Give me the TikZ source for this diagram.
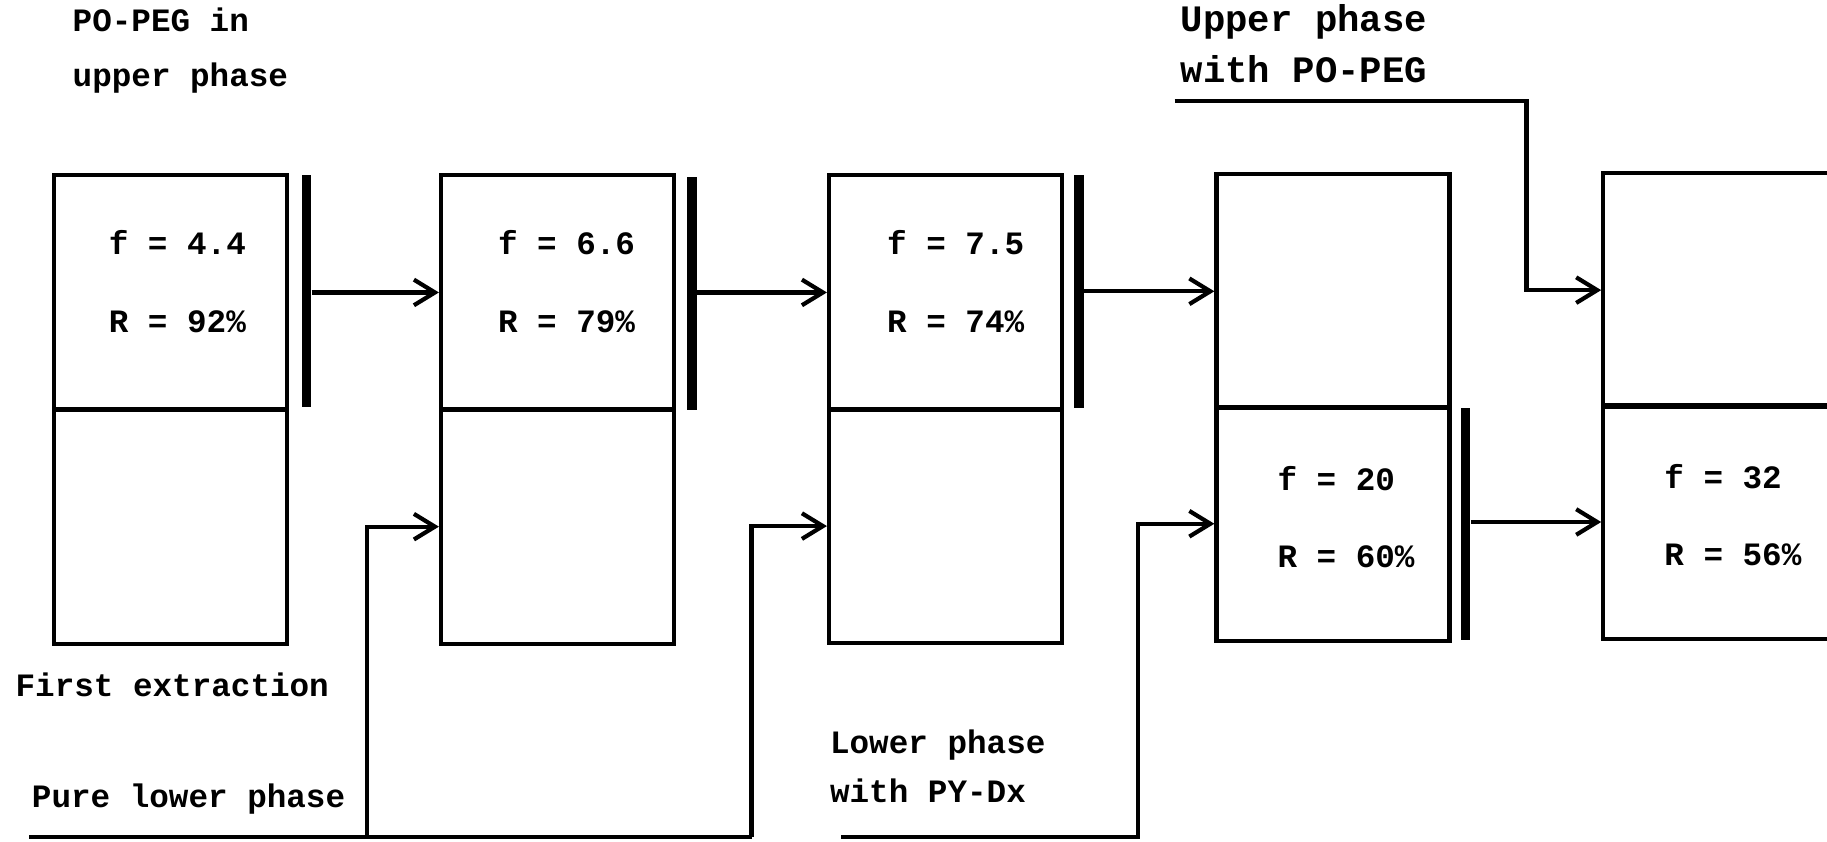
\documentclass[tikz,border=0pt]{standalone}
\usepackage{fontspec}
\setmainfont{Liberation Mono}
\usetikzlibrary{arrows.meta}
\tikzset{
  half/.style={draw, line width=1.8pt, minimum width=100pt, minimum height=100.5pt, inner sep=0pt},
  bar/.style={fill=black, draw=none, minimum width=4pt, inner sep=0pt},
  arr/.style={line width=1.8pt, -{Straight Barb[length=9pt, width=11pt, line width=1.8pt]}},
  feed/.style={line width=1.8pt},
  lbl/.style={anchor=base west, inner sep=0pt, font=\fontsize{14}{16}\selectfont\bfseries},
  biglbl/.style={anchor=base west, inner sep=0pt, font=\fontsize{16}{18}\selectfont\bfseries},
  val/.style={anchor=base west, inner sep=0pt, font=\fontsize{14}{16}\selectfont\bfseries},
}
\begin{document}
\begin{tikzpicture}[x=0.5pt, y=-0.5pt]
\useasboundingbox (0,0) rectangle (1568,722);
\clip (0,0) rectangle (1568,722);
% boxes: upper and lower halves
\node[half] (u1) at (146.5,251) {};
\node[half] (l1) at (146.5,452) {};
\node[half] (u2) at (478.5,251) {};
\node[half] (l2) at (478.5,452) {};
\node[half] (u3) at (811.5,251) {};
\node[half] (l3) at (811.5,451.5) {};
\node[half] (u4) at (1144,250) {};
\node[half] (l4) at (1144,449.5) {};
\node[half] (u5) at (1476,249) {};
\node[half] (l5) at (1476,448) {};
% values
\node[val] (f1) at (93,218) {f = 4.4};
\node[val] (r1) at (93,285) {R = 92\%};
\node[val] (f2) at (427,218) {f = 6.6};
\node[val] (r2) at (427,285) {R = 79\%};
\node[val] (f3) at (761,218) {f = 7.5};
\node[val] (r3) at (761,285) {R = 74\%};
\node[val] (f4) at (1096,421) {f = 20};
\node[val] (r4) at (1096,487) {R = 60\%};
\node[val] (f5) at (1428,419) {f = 32};
\node[val] (r5) at (1428,485) {R = 56\%};
% separator bars
\node[bar, minimum height=99.5pt] (b1) at (263,249.5) {};
\node[bar, minimum height=100pt] (b2) at (594,252) {};
\node[bar, minimum height=100pt] (b3) at (926,250) {};
\node[bar, minimum height=99.5pt] (b4) at (1258,449.5) {};
% upper-phase transfers
\draw[arr] (b1.east |- u2.west) -- (u2.west);
\draw[arr] (b2.east |- u3.west) -- (u3.west);
\draw[arr] (b3.east |- u4.west) -- (u4.west);
\draw[arr] (b4.east |- l5.west) -- (l5.west);
% feeds
\coordinate (up0) at (1008,87);
\coordinate (up1) at (1310,87);
\draw[arr] (up0) -- (up1) |- (u5.west);
\coordinate (pl0) at (25,718);
\coordinate (pl1) at (645,718);
\coordinate (pj) at (315,718);
\draw[feed] (pl0) -- (pl1);
\draw[arr] (pj) |- (l2.west);
\draw[arr] (pl1) |- (l3.west);
\coordinate (py0) at (722,718);
\coordinate (py1) at (977,718);
\draw[arr] (py0) -- (py1) |- (l4.west);
% labels
\node[lbl] (t1) at (62,27) {PO-PEG in};
\node[lbl] (t2) at (62,74) {upper phase};
\node[biglbl] (t3) at (1013,27) {Upper phase};
\node[biglbl] (t4) at (1013,71) {with PO-PEG};
\node[lbl] (t5) at (13,598) {First extraction};
\node[lbl] (t6) at (27,693) {Pure lower phase};
\node[lbl] (t7) at (712,647) {Lower phase};
\node[lbl] (t8) at (712,689) {with PY-Dx};
\end{tikzpicture}
\end{document}
